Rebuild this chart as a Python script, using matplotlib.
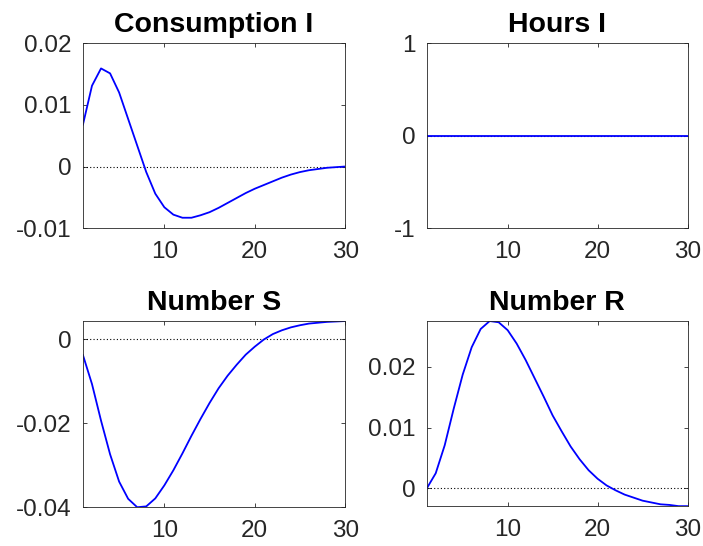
import numpy as np
import matplotlib
matplotlib.use("Agg")
import matplotlib.pyplot as plt

plt.rcParams['font.family'] = ['Liberation Sans', 'DejaVu Sans']

# horizon
periods = list(range(1, 31))

# impulse responses
consumption = [0.0068, 0.0131, 0.0159, 0.0151, 0.0120, 0.0077, 0.0034, -0.0009,
               -0.0044, -0.0066, -0.0078, -0.0083, -0.0083, -0.0079, -0.0074,
               -0.0067, -0.0059, -0.0051, -0.0043, -0.0036, -0.0030, -0.0024,
               -0.0018, -0.0013, -0.0009, -0.0006, -0.0004, -0.0002, -0.0001, 0.0000]
hours = [0.0] * 30
number_s = [-0.0038, -0.0107, -0.0194, -0.0274, -0.0339, -0.0380, -0.0400, -0.0398,
            -0.0379, -0.0348, -0.0312, -0.0272, -0.0230, -0.0190, -0.0152,
            -0.0117, -0.0087, -0.0061, -0.0037, -0.0018, -0.0001, 0.0012,
            0.0021, 0.0028, 0.0033, 0.0037, 0.0039, 0.0041, 0.0042, 0.0043]
number_r = [0.0000, 0.0025, 0.0071, 0.0131, 0.0187, 0.0232, 0.0262, 0.0275,
            0.0273, 0.0260, 0.0238, 0.0211, 0.0181, 0.0151, 0.0120, 0.0094,
            0.0069, 0.0048, 0.0030, 0.0016, 0.0005, -0.0003, -0.0010, -0.0015,
            -0.0020, -0.0023, -0.0026, -0.0027, -0.0029, -0.0029]

titles = ["Consumption I", "Hours I", "Number S", "Number R"]
series = [consumption, hours, number_s, number_r]
yticks = [[-0.01, 0, 0.01, 0.02], [-1, 0, 1], [-0.04, -0.02, 0], [0, 0.01, 0.02]]
yticklabels = [["-0.01", "0", "0.01", "0.02"], ["-1", "0", "1"],
               ["-0.04", "-0.02", "0"], ["0", "0.01", "0.02"]]
ylims = [(-0.01, 0.02), (-1, 1), (None, None), (None, None)]

# axes rectangles in figure fractions (left, bottom, width, height)
positions = [
    (0.118, 0.582, 0.373, 0.339),
    (0.607, 0.582, 0.371, 0.339),
    (0.118, 0.071, 0.373, 0.341),
    (0.607, 0.073, 0.371, 0.339),
]

fig = plt.figure(figsize=(7.03, 5.46), dpi=100)

for pos, title, y, yt, ytl, yl in zip(positions, titles, series, yticks, yticklabels, ylims):
    ax = fig.add_axes(pos)
    # dotted zero line under the response
    ax.plot(periods, [0] * len(periods), color="black", linestyle=(0, (1, 2)), linewidth=0.8)
    ax.plot(periods, y, color="#0000ff", linewidth=1.3)
    ax.set_xlim(1, 30)
    if yl[0] is None:
        ax.set_ylim(min(y), max(y))
    else:
        ax.set_ylim(*yl)
    ax.set_xticks([10, 20, 30])
    ax.set_yticks(yt)
    ax.set_yticklabels(ytl)
    ax.set_title(title, fontsize=20.5, fontweight="bold", pad=8)
    ax.tick_params(direction="in", top=True, right=True, length=3,
                   labelsize=17.5, colors="#262626", width=0.6)
    ax.tick_params(axis="x", pad=9)
    ax.tick_params(axis="y", pad=8)
    for sp in ax.spines.values():
        sp.set_color("#262626")
        sp.set_linewidth(0.6)

fig.savefig("out.png", dpi=100)
